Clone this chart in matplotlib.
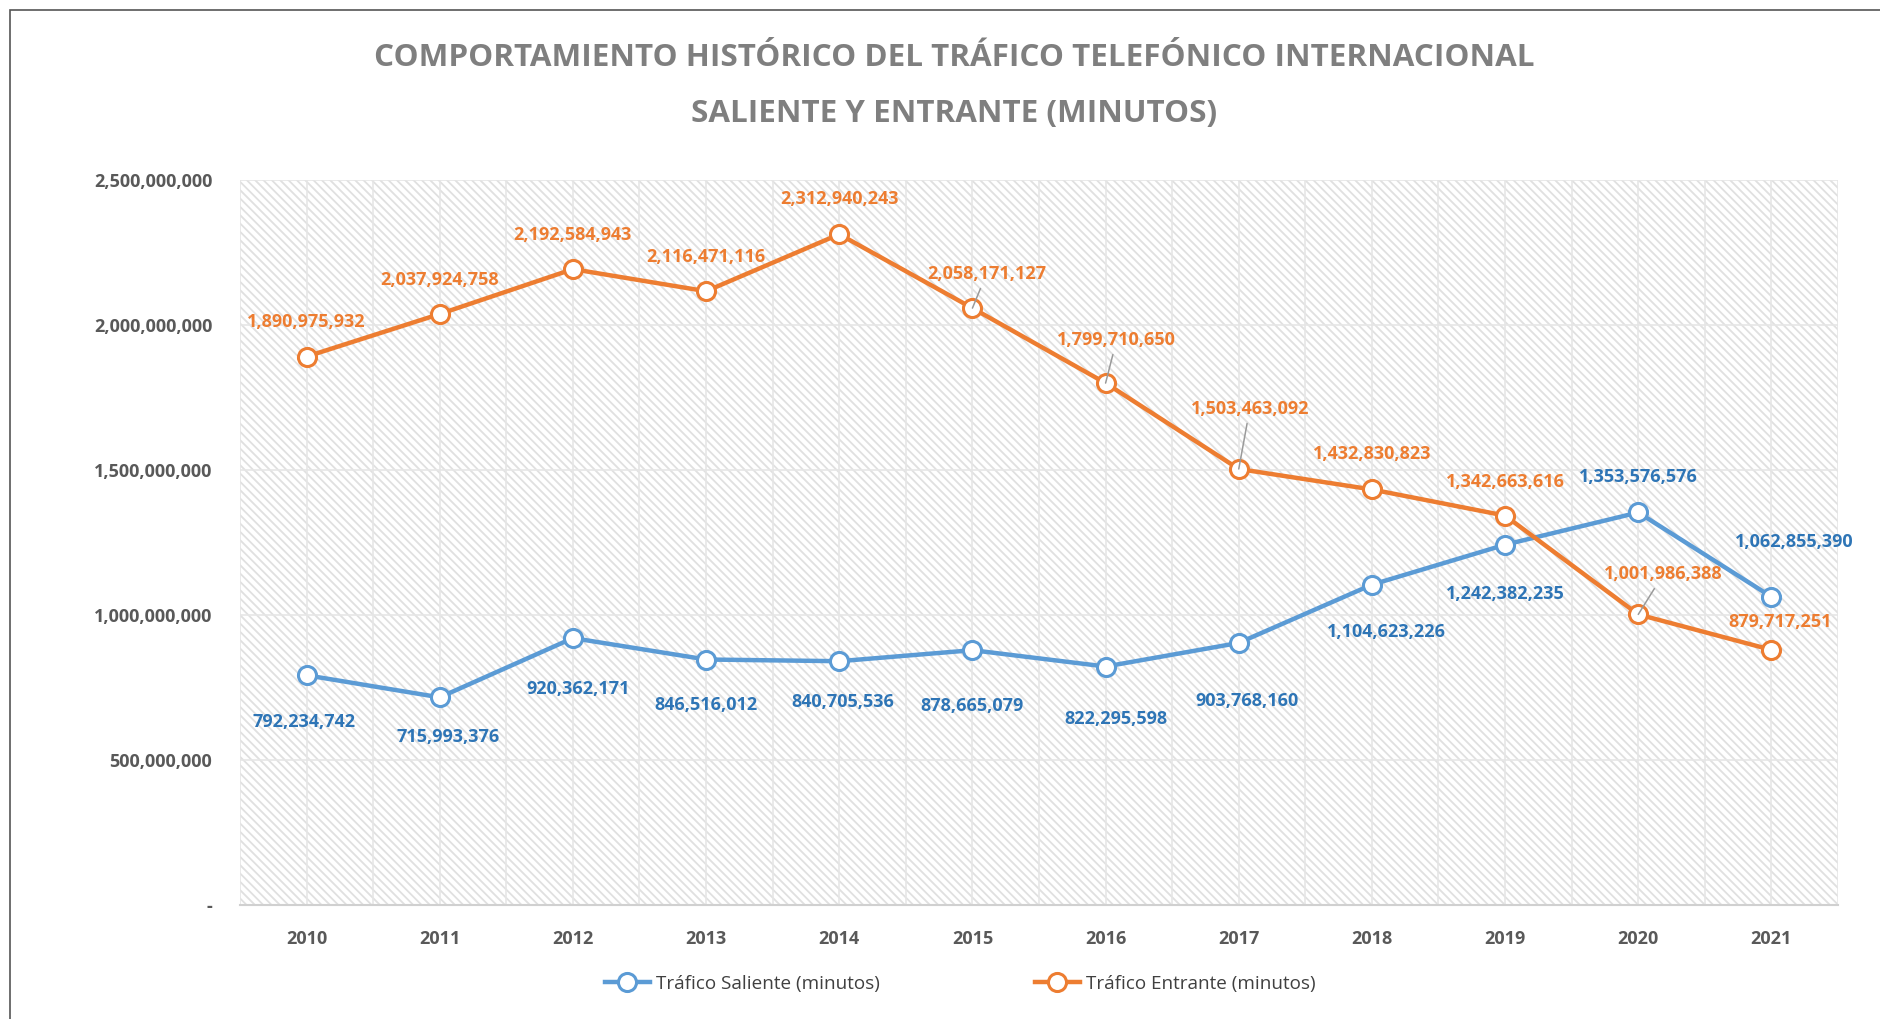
import matplotlib
matplotlib.use("Agg")
import matplotlib.pyplot as plt
from matplotlib.patches import Rectangle
from matplotlib.ticker import FuncFormatter, MultipleLocator
import numpy as np

# data
years = ["2010", "2011", "2012", "2013", "2014", "2015",
         "2016", "2017", "2018", "2019", "2020", "2021"]
saliente = [792234742, 715993376, 920362171, 846516012, 840705536, 878665079,
            822295598, 903768160, 1104623226, 1242382235, 1353576576, 1062855390]
entrante = [1890975932, 2037924758, 2192584943, 2116471116, 2312940243, 2058171127,
            1799710650, 1503463092, 1432830823, 1342663616, 1001986388, 879717251]

# label offsets in pixels (dx, dy up), plus which labels get a leader line
off_sal = [(-3, -47), (8, -40), (5, -51), (0, -45), (4, -41), (0, -56),
           (10, -52), (8, -58), (15, -47), (0, -49), (0, 35), (23, 55)]
off_ent = [(0, 35), (0, 34), (0, 34), (0, 34), (0, 35), (14, 34),
           (11, 43), (11, 60), (0, 35), (0, 34), (25, 40), (9, 28)]
leader_ent = [False, False, False, False, False, True,
              True, True, False, False, True, False]

BLUE = "#5B9BD5"
BLUE_TXT = "#2E75B6"
ORANGE = "#ED7D31"

plt.rcParams["font.family"] = ["Open Sans", "DejaVu Sans"]
plt.rcParams["hatch.linewidth"] = 1.3
plt.rcParams["hatch.color"] = "#e0e0e0"

DPI = 100
fig = plt.figure(figsize=(18.81, 10.19), dpi=DPI)
ax = fig.add_axes([240 / 1881, 1 - 905 / 1019, 1598 / 1881, 725 / 1019])

# chart border (cropped at right and bottom)
fig.patches.append(Rectangle((10 / 1881, -0.1), 1.2, 1.1 - 10 / 1019,
                             transform=fig.transFigure, fill=False,
                             edgecolor="#555555", linewidth=1.2))

x = np.arange(len(years))
ax.set_xlim(-0.5, len(years) - 0.5)
ax.set_ylim(0, 2.5e9)

# hatched background
ax.add_patch(Rectangle((0, 0), 1, 1, transform=ax.transAxes, facecolor="white",
                       edgecolor="#e0e0e0", hatch="\\\\\\\\", linewidth=0, zorder=0))

for s in ["top", "right", "left"]:
    ax.spines[s].set_visible(False)
ax.spines["bottom"].set_color("#d0d0d0")
ax.spines["bottom"].set_linewidth(1.5)

ax.yaxis.set_major_locator(MultipleLocator(5e8))
ax.yaxis.set_major_formatter(FuncFormatter(lambda v, p: "-" if v == 0 else f"{v:,.0f}"))
ax.set_xticks(x)
ax.set_xticklabels(years)
ax.tick_params(length=0)
ax.tick_params(axis="y", pad=20)
ax.tick_params(axis="x", pad=18)
for lab in ax.get_yticklabels() + ax.get_xticklabels():
    lab.set_fontweight("bold")
    lab.set_fontsize(13)
    lab.set_color("#595959")

# grid lines
for yv in np.arange(5e8, 2.51e9, 5e8):
    ax.axhline(yv, color="#e6e6e6", lw=1.2, zorder=1)
for xv in np.arange(-0.5, len(years), 0.5):
    ax.axvline(xv, color="#e6e6e6", lw=1.2, zorder=1)

ax.plot(x, saliente, color=BLUE, lw=3.2, marker="o", ms=13, mfc="white",
        mec=BLUE, mew=2.2, zorder=3, label="Tráfico Saliente (minutos)")
ax.plot(x, entrante, color=ORANGE, lw=3.2, marker="o", ms=13, mfc="white",
        mec=ORANGE, mew=2.2, zorder=3, label="Tráfico Entrante (minutos)")

px2pt = 72 / DPI
for i, v in enumerate(saliente):
    dx, dy = off_sal[i]
    ax.annotate(f"{v:,}", (x[i], v), xytext=(dx * px2pt, dy * px2pt),
                textcoords="offset points", ha="center", va="center",
                fontsize=13, fontweight="bold", color=BLUE_TXT, zorder=4)
for i, v in enumerate(entrante):
    dx, dy = off_ent[i]
    arrow = None
    if leader_ent[i]:
        arrow = dict(arrowstyle="-", color="#9a9a9a", lw=1.1, shrinkA=2, shrinkB=0)
    ax.annotate(f"{v:,}", (x[i], v), xytext=(dx * px2pt, dy * px2pt),
                textcoords="offset points", ha="center", va="center",
                fontsize=13, fontweight="bold", color=ORANGE,
                arrowprops=arrow, zorder=4)

fig.text(954 / 1881, 1 - 58 / 1019,
         "COMPORTAMIENTO HISTÓRICO DEL TRÁFICO TELEFÓNICO INTERNACIONAL",
         ha="center", va="center", fontsize=22.6, fontweight="bold", color="#7f7f7f")
fig.text(954 / 1881, 1 - 114 / 1019, "SALIENTE Y ENTRANTE (MINUTOS)",
         ha="center", va="center", fontsize=22.6, fontweight="bold", color="#7f7f7f")

leg = fig.legend(loc="center", bbox_to_anchor=(960 / 1881, 1 - 984 / 1019),
                 ncol=2, frameon=False, fontsize=13.6, columnspacing=8.2,
                 handlelength=2.4, handletextpad=0.3)
for t in leg.get_texts():
    t.set_color("#404040")

fig.savefig("out.png", dpi=DPI)
